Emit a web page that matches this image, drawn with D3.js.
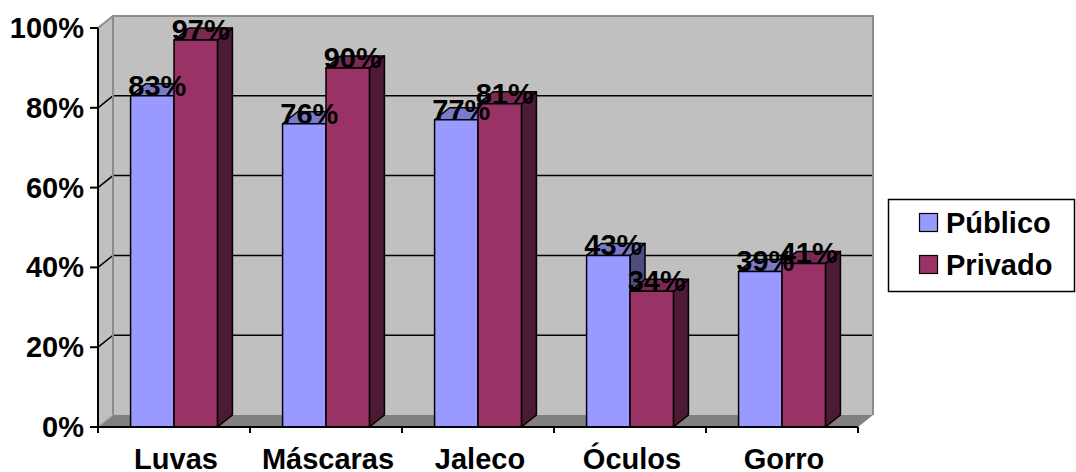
<!DOCTYPE html>
<html>
<head>
<meta charset="utf-8">
<script src="https://cdn.jsdelivr.net/npm/d3@7"></script>
<style>
  html, body { margin: 0; padding: 0; background: #ffffff; }
  svg { display: block; }
  text { font-family: "Liberation Sans", Arial, sans-serif; font-weight: bold; fill: #000; }
</style>
</head>
<body>
<svg id="chart" width="1076" height="472"></svg>
<script>
// Categories and series values (percent)
const categories = ["Luvas", "Máscaras", "Jaleco", "Óculos", "Gorro"];
const seriesNames = ["Público", "Privado"];
const publico = [83, 76, 77, 43, 39];
const privado = [97, 90, 81, 34, 41];
const yTicks = [0, 20, 40, 60, 80, 100];

const seriesValues = [publico, privado];
const palette = {
  "Público": { front: "#9999FF", top: "#7A7ACC", side: "#4D4D80" },
  "Privado": { front: "#993366", top: "#7A2952", side: "#4D1A33" }
};
const FONT = 29;

const svg = d3.select("#chart");

// Front plane of the 3D box and its depth offset
const plotLeft = 98, plotRight = 858, plotBottom = 427, plotTop = 28;
const DX = 15, DY = -12;

const x = d3.scaleBand().domain(categories).range([plotLeft, plotRight]).paddingInner(0).paddingOuter(0);
const xs = d3.scaleBand().domain(seriesNames).range([0, x.bandwidth()]).paddingInner(0).paddingOuter(0.75);
const y = d3.scaleLinear().domain([0, 100]).range([plotBottom, plotTop]);

const pts = p => p.map(d => d.join(",")).join(" ");

// Back wall
svg.append("polygon")
  .attr("points", pts([[plotLeft + DX, y(100) + DY], [plotRight + DX, y(100) + DY], [plotRight + DX, y(0) + DY], [plotLeft + DX, y(0) + DY]]))
  .attr("fill", "#C0C0C0");
// Side wall
svg.append("polygon")
  .attr("points", pts([[plotLeft, y(100)], [plotLeft + DX, y(100) + DY], [plotLeft + DX, y(0) + DY], [plotLeft, y(0)]]))
  .attr("fill", "#C0C0C0");
// Floor
svg.append("polygon")
  .attr("points", pts([[plotLeft, y(0)], [plotLeft + DX, y(0) + DY], [plotRight + DX, y(0) + DY], [plotRight, y(0)]]))
  .attr("fill", "#808080");

// Gridlines across the side wall and back wall
const grid = yTicks.filter(t => t > 0 && t < 100);
svg.append("g").selectAll("polyline").data(grid).join("polyline")
  .attr("points", t => pts([[plotLeft, y(t)], [plotLeft + DX, y(t) + DY], [plotRight + DX, y(t) + DY]]))
  .attr("fill", "none").attr("stroke", "#000").attr("stroke-width", 1.5);

// Wall edges
svg.append("polyline")
  .attr("points", pts([[plotLeft, y(100)], [plotLeft + DX, y(100) + DY], [plotRight + DX, y(100) + DY], [plotRight + DX, y(0) + DY]]))
  .attr("fill", "none").attr("stroke", "#8C8C8C").attr("stroke-width", 2);
svg.append("line")
  .attr("x1", plotLeft + DX).attr("x2", plotLeft + DX).attr("y1", y(100) + DY).attr("y2", y(0) + DY)
  .attr("stroke", "#8C8C8C").attr("stroke-width", 2);
svg.append("line")
  .attr("x1", plotLeft).attr("x2", plotLeft + DX).attr("y1", y(0)).attr("y2", y(0) + DY)
  .attr("stroke", "#A0A0A0").attr("stroke-width", 1.5);

// Bars (front, top and right side faces)
const barsG = svg.append("g");
categories.forEach((c, i) => {
  seriesNames.forEach((s, j) => {
    const v = seriesValues[j][i];
    const x0 = x(c) + xs(s), w = xs.bandwidth();
    const y0 = y(v), yb = y(0);
    const col = palette[s];
    const g = barsG.append("g").attr("stroke", "#000").attr("stroke-width", 1.5).attr("stroke-linejoin", "round");
    g.append("polygon")
      .attr("points", pts([[x0 + w, y0], [x0 + w + DX, y0 + DY], [x0 + w + DX, yb + DY], [x0 + w, yb]]))
      .attr("fill", col.side);
    g.append("polygon")
      .attr("points", pts([[x0, y0], [x0 + DX, y0 + DY], [x0 + w + DX, y0 + DY], [x0 + w, y0]]))
      .attr("fill", col.top);
    g.append("rect")
      .attr("x", x0).attr("y", y0).attr("width", w).attr("height", yb - y0)
      .attr("fill", col.front);
  });
});

// Axes
const axisG = svg.append("g").attr("stroke", "#000").attr("stroke-width", 2);
axisG.append("line").attr("x1", plotLeft).attr("x2", plotLeft).attr("y1", y(100)).attr("y2", y(0) + 6);
axisG.append("line").attr("x1", plotLeft - 1).attr("x2", plotRight).attr("y1", y(0)).attr("y2", y(0));
axisG.selectAll(".yt").data(yTicks).join("line").attr("class", "yt")
  .attr("x1", plotLeft - 8).attr("x2", plotLeft).attr("y1", d => y(d)).attr("y2", d => y(d));
const xEdges = categories.map(c => x(c)).concat([plotRight]);
axisG.selectAll(".xt").data(xEdges).join("line").attr("class", "xt")
  .attr("x1", d => d).attr("x2", d => d).attr("y1", y(0)).attr("y2", y(0) + 6);

// Y tick labels
svg.append("g").selectAll("text").data(yTicks).join("text")
  .attr("x", plotLeft - 14).attr("y", d => y(d) + 10)
  .attr("text-anchor", "end").attr("font-size", FONT)
  .text(d => d + "%");

// Category labels
svg.append("g").selectAll("text").data(categories).join("text")
  .attr("x", d => x(d) + x.bandwidth() / 2 + 2).attr("y", 469)
  .attr("text-anchor", "middle").attr("font-size", FONT)
  .text(d => d);

// Data labels
const labG = svg.append("g");
categories.forEach((c, i) => {
  seriesNames.forEach((s, j) => {
    const v = seriesValues[j][i];
    labG.append("text")
      .attr("x", x(c) + xs(s) + xs.bandwidth() / 2 + 5)
      .attr("y", y(v))
      .attr("text-anchor", "middle").attr("font-size", FONT)
      .text(v + "%");
  });
});

// Legend
const lg = svg.append("g");
lg.append("rect").attr("x", 888.5).attr("y", 199.5).attr("width", 186).attr("height", 92)
  .attr("fill", "#fff").attr("stroke", "#000").attr("stroke-width", 1.5);
seriesNames.forEach((s, j) => {
  const by = 233 + j * 42;
  lg.append("rect").attr("x", 919.5).attr("y", by - 19.5).attr("width", 18).attr("height", 18)
    .attr("fill", palette[s].front).attr("stroke", "#000").attr("stroke-width", 1.2);
  lg.append("text").attr("x", 946).attr("y", by).attr("font-size", FONT).text(s);
});
</script>
</body>
</html>
